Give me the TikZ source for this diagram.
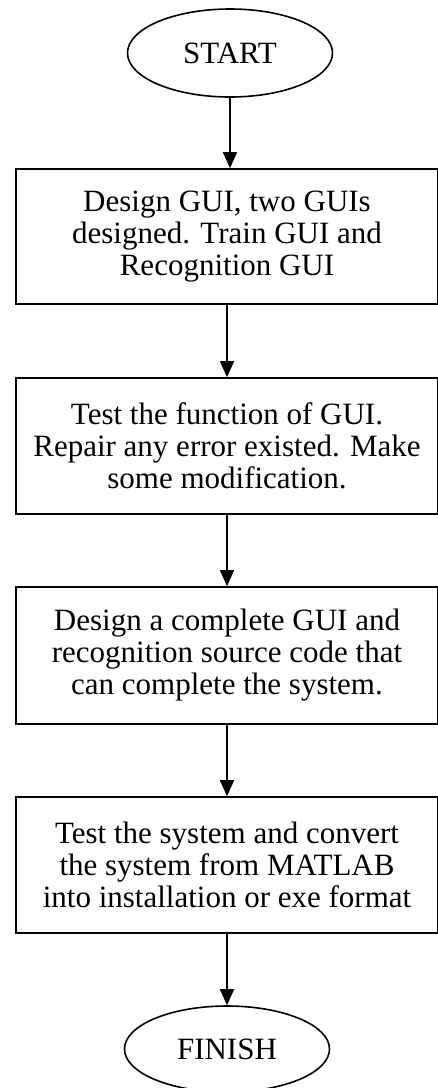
\documentclass[tikz,border=0pt]{standalone}
\usepackage{fontspec}
\setmainfont{Liberation Serif}
\usepackage{tikz}
\usetikzlibrary{positioning,shapes.geometric,arrows.meta}

\tikzset{
  stepbox/.style={draw, rectangle, line width=1.6pt, minimum width=422pt, minimum height=136pt,
    inner sep=0pt, align=center, font=\fontsize{31}{32}\selectfont},
  terminal/.style={draw, ellipse, line width=1.6pt, minimum width=205pt, minimum height=88pt,
    inner sep=0pt, font=\fontsize{31}{32}\selectfont},
  flow/.style={-{Triangle[length=16pt,width=14pt]}, line width=1.6pt}
}

\begin{document}
\begin{tikzpicture}[x=1pt,y=1pt]
  \useasboundingbox (0,0) rectangle (438,-1088);

  %inizio
  \node[terminal] (start) at (230,-53) {START};

  %passi
  \node[stepbox, minimum height=135pt] (design) at (227,-236.5) {Design GUI, two GUIs\\designed. Train GUI and\\Recognition GUI};
  \node[stepbox] (testgui) at (227,-446) {Test the function of GUI.\\Repair any error existed. Make\\some modification.};
  \node[stepbox, minimum height=137pt] (complete) at (227,-655.5) {Design a complete GUI and\\recognition source code that\\can complete the system.};
  \node[stepbox] (convert) at (227,-865) {Test the system and convert\\the system from MATLAB\\into installation or exe format};

  %fine
  \node[terminal, minimum height=86pt] (finish) at (227,-1049) {FINISH};

  %frecce
  \draw[flow] (start.south) -- (start.south |- design.north);
  \draw[flow] (design.south) -- (testgui.north);
  \draw[flow] (testgui.south) -- (complete.north);
  \draw[flow] (complete.south) -- (convert.north);
  \draw[flow] (convert.south) -- (finish.north);
\end{tikzpicture}
\end{document}
